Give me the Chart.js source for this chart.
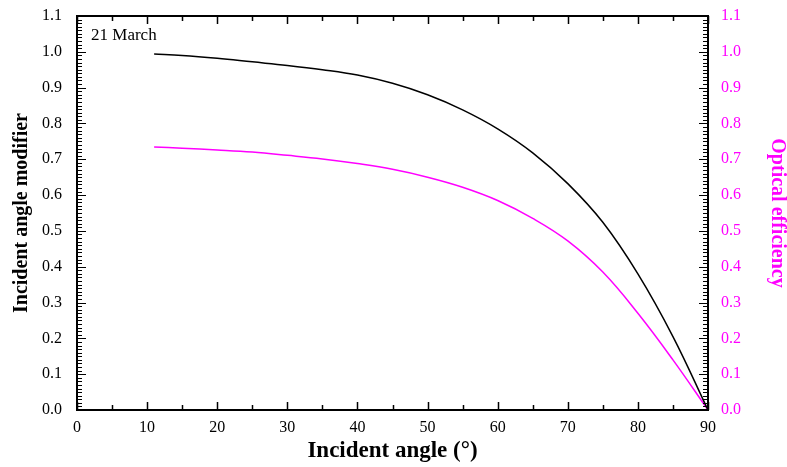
<!DOCTYPE html>
<html>
<head>
<meta charset="utf-8">
<script src="https://cdn.jsdelivr.net/npm/chart.js@4/dist/chart.umd.min.js"></script>
<style>
  body { margin: 0; background: #fff; }
  canvas { display: block; }
</style>
</head>
<body>
<canvas id="chart" width="787" height="467"></canvas>
<script>
// Incident angle (deg)
const angles = [11, 15, 20, 25, 30, 35, 40, 45, 50, 55, 60, 65, 70, 75, 80, 85, 90];
// Incident angle modifier (black, left axis)
const modifier = [0.994, 0.990, 0.982, 0.972, 0.962, 0.950, 0.935, 0.912, 0.880, 0.838, 0.785, 0.718, 0.632, 0.524, 0.380, 0.205, 0.0];
// Optical efficiency (magenta, right axis)
const efficiency = [0.734, 0.731, 0.726, 0.720, 0.711, 0.701, 0.688, 0.672, 0.650, 0.622, 0.585, 0.535, 0.472, 0.385, 0.270, 0.140, 0.0];

const MAGENTA = "#ff00ff";
const serif = "'Liberation Serif', 'Times New Roman', serif";

// Frame, inward tick marks and the "21 March" note
const framePlugin = {
    id: "frame",
    afterDraw(chart) {
        const ctx = chart.ctx;
        const a = chart.chartArea;
        const x = chart.scales.x;
        const y = chart.scales.y;
        ctx.save();
        ctx.strokeStyle = "#000";

        // x ticks (bottom and top), major every 10, minor every 5
        ctx.lineWidth = 1.5;
        for (let v = 0; v <= 90; v += 5) {
            const px = Math.round(x.getPixelForValue(v)) + 0.5;
            const len = v % 10 === 0 ? 8 : 5;
            ctx.beginPath();
            ctx.moveTo(px, a.bottom); ctx.lineTo(px, a.bottom - len);
            ctx.moveTo(px, a.top); ctx.lineTo(px, a.top + len);
            ctx.stroke();
        }

        // y ticks (left and right), major every 0.1, minor every 0.01
        ctx.lineWidth = 1;
        for (let i = 0; i <= 110; i++) {
            const py = Math.round(y.getPixelForValue(i / 100)) + 0.5;
            const len = i % 10 === 0 ? 9 : 5;
            ctx.beginPath();
            ctx.moveTo(a.left, py); ctx.lineTo(a.left + len, py);
            ctx.moveTo(a.right, py); ctx.lineTo(a.right - len, py);
            ctx.stroke();
        }

        // box
        ctx.lineWidth = 2;
        ctx.strokeRect(a.left, a.top, a.right - a.left, a.bottom - a.top);

        // note
        ctx.fillStyle = "#000";
        ctx.font = "17px " + serif;
        ctx.textBaseline = "middle";
        ctx.fillText("21 March", x.getPixelForValue(2), y.getPixelForValue(1.045));
        ctx.restore();
    }
};

// fixed size for the vertical axes, without the extra tick padding on top
function fitY(width) {
    return (scale) => {
        scale.width = width;
        scale.paddingTop = 8;
        scale.paddingBottom = 8;
    };
}

new Chart(document.getElementById("chart"), {
    type: "line",
    data: {
        datasets: [
            {
                label: "Incident angle modifier",
                data: angles.map((a, i) => ({ x: a, y: modifier[i] })),
                borderColor: "#000",
                borderWidth: 1.5,
                pointRadius: 0,
                tension: 0.4,
                yAxisID: "y",
            },
            {
                label: "Optical efficiency",
                data: angles.map((a, i) => ({ x: a, y: efficiency[i] })),
                borderColor: MAGENTA,
                borderWidth: 1.5,
                pointRadius: 0,
                tension: 0.4,
                yAxisID: "y2",
            },
        ],
    },
    options: {
        responsive: false,
        animation: false,
        layout: { padding: { top: 16, left: 0, right: 0, bottom: 0 } },
        plugins: {
            legend: { display: false },
            tooltip: { enabled: false },
        },
        scales: {
            x: {
                type: "linear",
                min: 0,
                max: 90,
                grid: { display: false, drawTicks: false },
                border: { display: false },
                ticks: {
                    stepSize: 10,
                    padding: 8,
                    color: "#000",
                    font: { family: serif, size: 16 },
                },
                title: {
                    display: true,
                    text: "Incident angle (°)",
                    color: "#000",
                    font: { family: serif, size: 23, weight: "bold", lineHeight: 1 },
                    padding: { top: 0, bottom: 4 },
                },
                afterFit(scale) { scale.height = 57; },
            },
            y: {
                position: "left",
                min: 0,
                max: 1.1,
                grid: { display: false, drawTicks: false },
                border: { display: false },
                ticks: {
                    stepSize: 0.1,
                    padding: 15,
                    color: "#000",
                    font: { family: serif, size: 16 },
                    callback: (v) => v.toFixed(1),
                },
                title: {
                    display: true,
                    text: "Incident angle modifier",
                    color: "#000",
                    font: { family: serif, size: 20, weight: "bold", lineHeight: 1 },
                    padding: { top: 12, bottom: 0 },
                },
                afterFit: fitY(77),
            },
            y2: {
                position: "right",
                min: 0,
                max: 1.1,
                grid: { display: false, drawTicks: false },
                border: { display: false },
                ticks: {
                    stepSize: 0.1,
                    padding: 13,
                    color: MAGENTA,
                    font: { family: serif, size: 16 },
                    callback: (v) => v.toFixed(1),
                },
                title: {
                    display: true,
                    text: "Optical efficiency",
                    color: MAGENTA,
                    font: { family: serif, size: 20, weight: "bold", lineHeight: 1 },
                    padding: { top: 0, bottom: 0 },
                },
                afterFit: fitY(79),
            },
        },
    },
    plugins: [framePlugin],
});
</script>
</body>
</html>
